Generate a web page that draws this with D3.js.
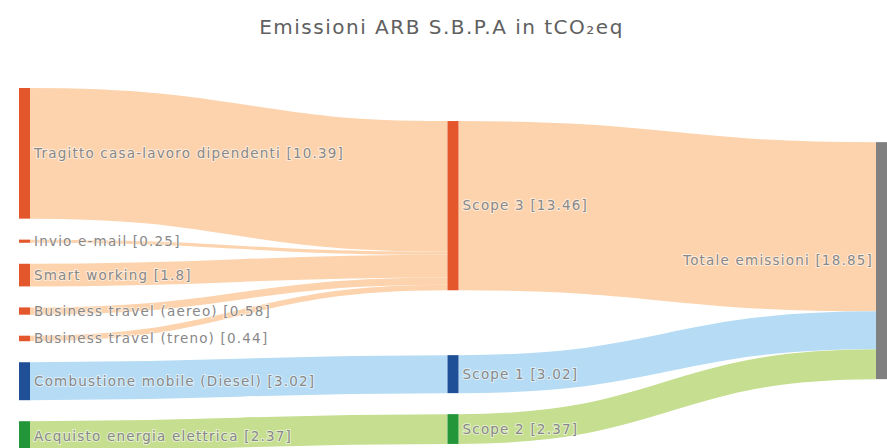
<!DOCTYPE html>
<html>
<head>
<meta charset="utf-8">
<script src="https://cdn.jsdelivr.net/npm/d3@7"></script>
<style>
  html, body { margin: 0; padding: 0; background: #fff; }
  svg { display: block; }
  text { font-family: "DejaVu Sans", "Noto Sans", sans-serif; }
</style>
</head>
<body>
<svg id="chart" width="887" height="448"></svg>
<script>
// ---- data ----
const titleText = "Emissioni ARB S.B.P.A in tCO₂eq";
const nodeNames = [
  "Tragitto casa-lavoro dipendenti",
  "Invio e-mail",
  "Smart working",
  "Business travel (aereo)",
  "Business travel (treno)",
  "Combustione mobile (Diesel)",
  "Acquisto energia elettrica",
  "Scope 3",
  "Scope 1",
  "Scope 2",
  "Totale emissioni"
];
const nodeColors = ["#e4562b","#e4562b","#e4562b","#e4562b","#e4562b","#1f4f96","#23963a","#e4562b","#1f4f96","#23963a","#808080"];
const linkSources = [0, 1, 2, 3, 4, 5, 6, 7, 8, 9];
const linkTargets = [7, 7, 7, 7, 7, 8, 9, 10, 10, 10];
const linkValues  = [10.39, 0.25, 1.8, 0.58, 0.44, 3.02, 2.37, 13.46, 3.02, 2.37];
const linkColors  = ["#fdd3ad","#fdd3ad","#fdd3ad","#fdd3ad","#fdd3ad","#b5dcf4","#c5de8f","#fdd3ad","#b5dcf4","#c5de8f"];

// ---- layout (classic d3-sankey relaxation, input order kept) ----
function sankey(nodes, links, opt) {
  const {x0, x1, y0, y1, dx, padding, iterations} = opt;
  nodes.forEach((n, i) => { n.index = i; n.sourceLinks = []; n.targetLinks = []; });
  links.forEach(l => {
    l.source = nodes[l.source]; l.target = nodes[l.target];
    l.source.sourceLinks.push(l); l.target.targetLinks.push(l);
  });
  nodes.forEach(n => n.value = Math.max(d3.sum(n.sourceLinks, l => l.value), d3.sum(n.targetLinks, l => l.value)));
  let current = new Set(nodes.filter(n => n.targetLinks.length === 0)), next, d = 0;
  while (current.size) {
    next = new Set();
    for (const n of current) { n.depth = d; for (const l of n.sourceLinks) next.add(l.target); }
    d++; current = next;
  }
  const maxDepth = d - 1;
  nodes.forEach(n => { n.layer = n.sourceLinks.length ? n.depth : maxDepth; });
  const kx = (x1 - x0 - dx) / maxDepth;
  const columns = d3.range(maxDepth + 1).map(() => []);
  nodes.forEach(n => { n.x0 = x0 + n.layer * kx; n.x1 = n.x0 + dx; columns[n.layer].push(n); });
  const py = padding;
  const ky = d3.min(columns, c => (y1 - y0 - (c.length - 1) * py) / d3.sum(c, n => n.value));
  columns.forEach(col => col.forEach((n, i) => { n.y0 = i; n.y1 = i + n.value * ky; }));
  links.forEach(l => l.width = l.value * ky);
  const center = n => (n.y0 + n.y1) / 2;
  function resolve() {
    for (const col of columns) {
      let y = y0, n, dy;
      for (n of col) { dy = y - n.y0; if (dy > 0) { n.y0 += dy; n.y1 += dy; } y = n.y1 + py; }
      dy = y - py - y1;
      if (dy > 0) {
        n = col[col.length - 1]; n.y0 -= dy; n.y1 -= dy; y = n.y0;
        for (let i = col.length - 2; i >= 0; --i) {
          n = col[i]; dy = n.y1 + py - y;
          if (dy > 0) { n.y0 -= dy; n.y1 -= dy; }
          y = n.y0;
        }
      }
    }
  }
  resolve();
  for (let alpha = 1, it = iterations; it > 0; --it) {
    alpha *= 0.99;
    columns.slice().reverse().forEach(col => col.forEach(n => {
      if (n.sourceLinks.length) {
        const dy = (d3.sum(n.sourceLinks, l => center(l.target) * l.value) / d3.sum(n.sourceLinks, l => l.value) - center(n)) * alpha;
        n.y0 += dy; n.y1 += dy;
      }
    }));
    resolve();
    columns.forEach(col => col.forEach(n => {
      if (n.targetLinks.length) {
        const dy = (d3.sum(n.targetLinks, l => center(l.source) * l.value) / d3.sum(n.targetLinks, l => l.value) - center(n)) * alpha;
        n.y0 += dy; n.y1 += dy;
      }
    }));
    resolve();
  }
  for (const n of nodes) {
    let a = n.y0, b = n.y0;
    for (const l of n.sourceLinks) { l.y0 = a + l.width / 2; a += l.width; }
    for (const l of n.targetLinks) { l.y1 = b + l.width / 2; b += l.width; }
  }
  return {nodes, links};
}

const nodes = nodeNames.map((name, i) => ({name, color: nodeColors[i]}));
const links = linkSources.map((s, i) => ({source: s, target: linkTargets[i], value: linkValues[i], color: linkColors[i]}));
const W = 887, H = 448;
const graph = sankey(nodes, links, {x0: 19, x1: 887, y0: 88, y1: 451, dx: 11, padding: 21, iterations: 50});

const svg = d3.select("#chart");
const fmt = v => String(+v.toFixed(2));

svg.append("text")
  .attr("x", W / 2 - 2).attr("y", 34)
  .attr("text-anchor", "middle")
  .attr("font-size", 20)
  .attr("letter-spacing", 1.5)
  .attr("fill", "#606060")
  .text(titleText);

const linkGen = d3.linkHorizontal().source(d => [d.source.x1, d.y0]).target(d => [d.target.x0, d.y1]);
svg.append("g").attr("fill", "none")
  .selectAll("path").data(graph.links).join("path")
  .attr("d", linkGen)
  .attr("stroke", d => d.color)
  .attr("stroke-width", d => Math.max(1, d.width));

svg.append("g").selectAll("rect").data(graph.nodes).join("rect")
  .attr("x", d => d.x0).attr("y", d => d.y0)
  .attr("width", d => d.x1 - d.x0).attr("height", d => Math.max(1, d.y1 - d.y0))
  .attr("fill", d => d.color);

svg.append("g").selectAll("text").data(graph.nodes).join("text")
  .attr("x", d => d.x0 < W / 2 + 100 ? d.x1 + 4 : d.x0 - 3)
  .attr("y", d => (d.y0 + d.y1) / 2)
  .attr("dy", "0.35em")
  .attr("text-anchor", d => d.x0 < W / 2 + 100 ? "start" : "end")
  .attr("font-size", 13.5)
  .attr("letter-spacing", 1.2)
  .attr("fill", "#888")
  .attr("paint-order", "stroke")
  .attr("stroke", "rgba(255,255,255,0.55)")
  .attr("stroke-width", 2)
  .text(d => `${d.name} [${fmt(d.value)}]`);
</script>
</body>
</html>
